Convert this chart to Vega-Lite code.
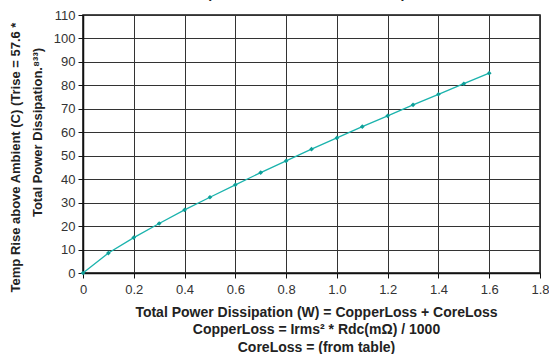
{
  "$schema": "https://vega.github.io/schema/vega-lite/v6.json",
  "width": 457,
  "height": 258,
  "autosize": "none",
  "padding": {"left": 83, "top": 15, "right": 9, "bottom": 81},
  "background": "white",
  "title": {"text": "Temperature Rise vs Power Dissipation", "fontSize": 14, "fontWeight": "bold", "font": "Liberation Sans", "offset": 11, "dy": 40, "color": "#222"},
  "config": {
    "view": {"stroke": "#111", "strokeWidth": 1.5},
    "font": "Liberation Sans"
  },
  "data": {"values": [
    {"p": 0, "t": 0},
    {"p": 0.1, "t": 8.5},
    {"p": 0.2, "t": 15.1},
    {"p": 0.3, "t": 21.1},
    {"p": 0.4, "t": 26.9},
    {"p": 0.5, "t": 32.3},
    {"p": 0.6, "t": 37.6},
    {"p": 0.7, "t": 42.8},
    {"p": 0.8, "t": 47.8},
    {"p": 0.9, "t": 52.8},
    {"p": 1.0, "t": 57.6},
    {"p": 1.1, "t": 62.4},
    {"p": 1.2, "t": 67.0},
    {"p": 1.3, "t": 71.7},
    {"p": 1.4, "t": 76.2},
    {"p": 1.5, "t": 80.7},
    {"p": 1.6, "t": 85.2}
  ]},
  "encoding": {
    "x": {
      "field": "p", "type": "quantitative",
      "scale": {"domain": [0, 1.8], "nice": false, "zero": false},
      "axis": {
        "values": [0, 0.2, 0.4, 0.6, 0.8, 1.0, 1.2, 1.4, 1.6, 1.8],
        "labelExpr": "datum.value == 0 ? '0' : format(datum.value, '.1f')",
        "grid": true, "gridColor": "#333", "gridOpacity": 1, "gridWidth": 1,
        "domain": true, "domainColor": "#111", "domainWidth": 1.5,
        "tickColor": "#111", "tickSize": 5, "tickWidth": 1,
        "labelFontSize": 13, "labelColor": "#333", "labelPadding": 5, "labelFont": "Liberation Sans",
        "labelFlush": false,
        "title": ["Total Power Dissipation (W) = CopperLoss + CoreLoss", "CopperLoss = Irms² * Rdc(mΩ) / 1000", "CoreLoss = (from table)"],
        "titleFontSize": 14, "titleFontWeight": "bold", "titleColor": "#222", "titleFont": "Liberation Sans",
        "titleLineHeight": 17.5, "titlePadding": 9, "titleX": 233
      }
    },
    "y": {
      "field": "t", "type": "quantitative",
      "scale": {"domain": [0, 110], "nice": false},
      "axis": {
        "values": [0, 10, 20, 30, 40, 50, 60, 70, 80, 90, 100, 110],
        "grid": true, "gridColor": "#333", "gridOpacity": 1, "gridWidth": 1,
        "domain": true, "domainColor": "#111", "domainWidth": 1.5,
        "tickColor": "#111", "tickSize": 5, "tickWidth": 1,
        "labelFontSize": 13, "labelColor": "#333", "labelPadding": 3, "labelFont": "Liberation Sans",
        "labelFlush": false,
        "title": ["Temp Rise above Ambient (C) (Trise = 57.6 *\u2800\u2800\u2800\u2800\u2800", "Total Power Dissipation.⁸³³)"],
        "titleFontSize": 13, "titleFontWeight": "bold", "titleColor": "#222", "titleFont": "Liberation Sans",
        "titleLineHeight": 22, "titlePadding": 9, "titleY": 117
      }
    }
  },
  "layer": [
    {"mark": {"type": "line", "color": "#1bb3ad", "strokeWidth": 1.3}},
    {"mark": {"type": "point", "shape": "diamond", "filled": true, "color": "#0e9f99", "size": 22, "opacity": 1}}
  ]
}
